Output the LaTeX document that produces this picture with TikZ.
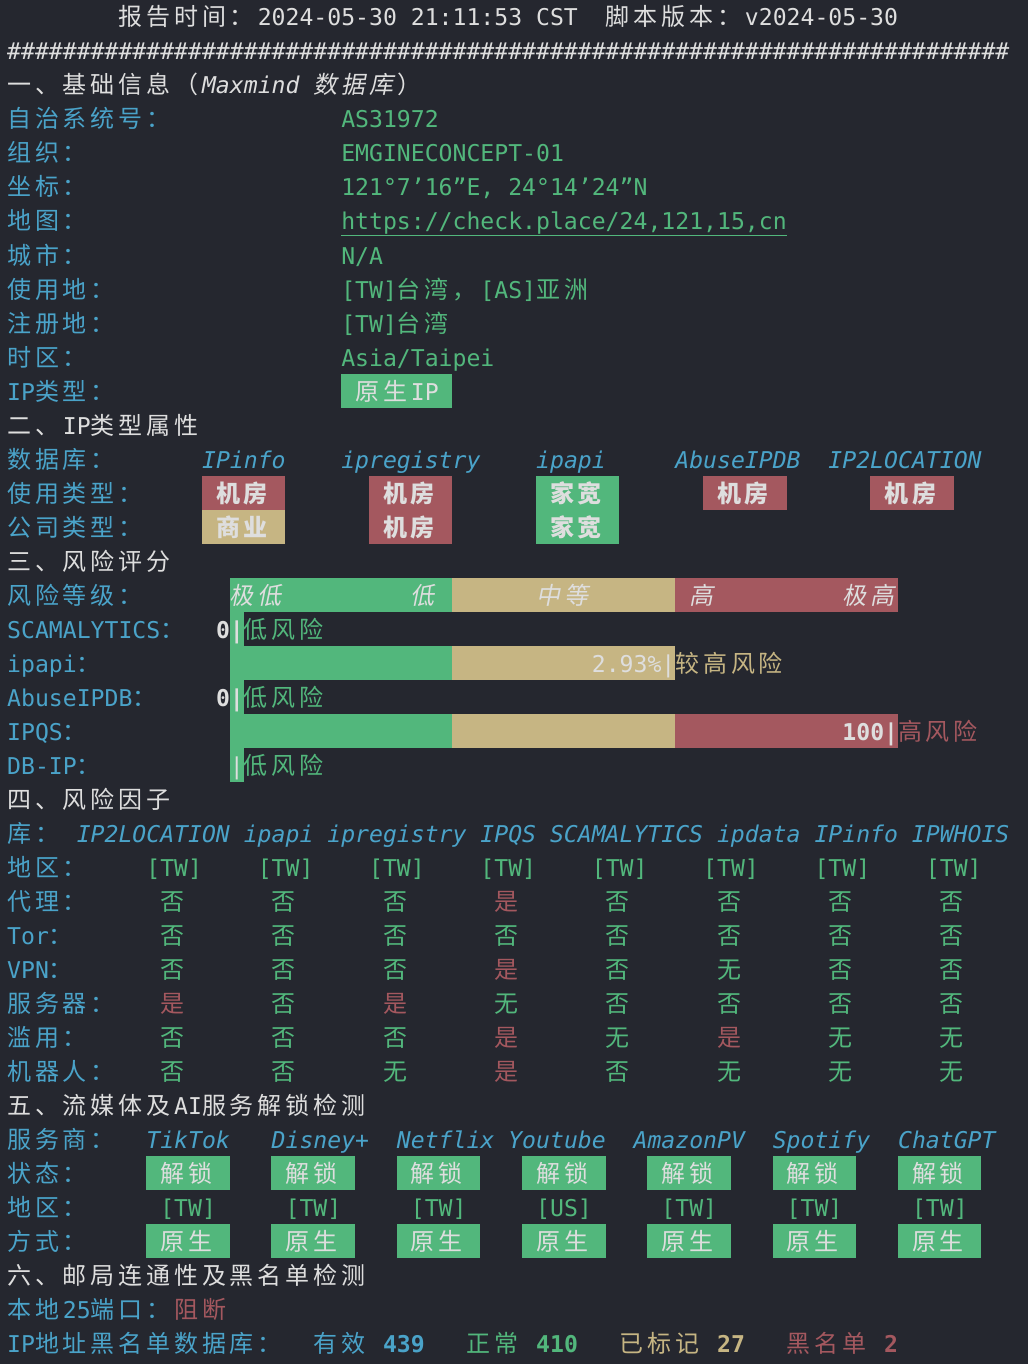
\documentclass[tikz,border=0pt]{standalone}
\usepackage{fontspec}
\setmainfont{DejaVu Sans Mono}
\newfontfamily\cjkr{Noto Sans CJK SC}[Scale=1.038]
\newfontfamily\cjki{Noto Sans CJK SC}[Scale=1.038, FakeSlant=0.2]
\definecolor{termbg}{HTML}{25272F}
\definecolor{tcyan}{HTML}{4AA3C9}
\definecolor{tgreen}{HTML}{52B77C}
\definecolor{ttan}{HTML}{C6B583}
\definecolor{tred}{HTML}{A4585F}
\definecolor{twhite}{HTML}{DEDEDE}
\usetikzlibrary{positioning, calc}

% one CJK glyph takes two terminal cells
\def\hzfam{\cjkr}
\def\hzloop#1{\ifx#1\relax\else\makebox[27.84pt][l]{\hzfam#1}\expandafter\hzloop\fi}
\newcommand\hz[1]{\expandafter\hzloop#1\relax}
\newcommand\hzi[1]{{\let\hzfam\cjki\expandafter\hzloop#1\relax}}
\ExplSyntaxOn
\newcommand\hashline{\prg_replicate:nn{72}{\#}}
\ExplSyntaxOff

\tikzset{
	txt/.style={inner sep=0pt, anchor=base west, yshift=-26pt, font=\fontsize{23.121pt}{34pt}\selectfont}
}

\begin{document}
\begin{tikzpicture}[x=13.92pt, y=-34pt]
	\fill[termbg] (-7pt,0pt) rectangle (1021pt,-1364pt);
	\useasboundingbox (-7pt,0pt) rectangle (1021pt,-1364pt);
	% header
	\node[txt, text=twhite] at (8,0) (rtime) {\hz{报告时间：}2024-05-30 21:11:53 CST};
	\node[txt, text=twhite] at (43,0) (rver) {\hz{脚本版本：}v2024-05-30};
	\node[txt, text=twhite] at (0,1) (hash) {\hashline};
	% basic info
	\node[txt, text=twhite] at (0,2) (sec1) {\hz{一、基础信息（}\textit{Maxmind}\ \hzi{数据库}\hz{）}};
	\node[txt, text=tcyan] at (0,3) (asnL) {\hz{自治系统号：}};
	\node[txt, text=tgreen] at (24,3) (asn) {AS31972};
	\node[txt, text=tcyan] at (0,4) (orgL) {\hz{组织：}};
	\node[txt, text=tgreen] at (24,4) (org) {EMGINECONCEPT-01};
	\node[txt, text=tcyan] at (0,5) (geoL) {\hz{坐标：}};
	\node[txt, text=tgreen] at (24,5) (geo) {121°7’16”E, 24°14’24”N};
	\node[txt, text=tcyan] at (0,6) (mapL) {\hz{地图：}};
	\node[txt, text=tgreen] at (24,6) (url) {https://check.place/24,121,15,cn};
	\draw[tgreen, line width=1.5pt] ([yshift=-5.5pt]url.base west) -- ([yshift=-5.5pt]url.base east);
	\node[txt, text=tcyan] at (0,7) (cityL) {\hz{城市：}};
	\node[txt, text=tgreen] at (24,7) (city) {N/A};
	\node[txt, text=tcyan] at (0,8) (useL) {\hz{使用地：}};
	\node[txt, text=tgreen] at (24,8) (use) {[TW]\hz{台湾，}[AS]\hz{亚洲}};
	\node[txt, text=tcyan] at (0,9) (regL) {\hz{注册地：}};
	\node[txt, text=tgreen] at (24,9) (reg) {[TW]\hz{台湾}};
	\node[txt, text=tcyan] at (0,10) (tzL) {\hz{时区：}};
	\node[txt, text=tgreen] at (24,10) (tz) {Asia/Taipei};
	\node[txt, text=tcyan] at (0,11) (ipL) {IP\hz{类型：}};
	\fill[tgreen] (24,11) rectangle (32,12);
	\node[txt, text=twhite] at (25,11) (ipt) {\hz{原生}IP};
	% ip type
	\node[txt, text=twhite] at (0,12) (sec2) {\hz{二、}IP\hz{类型属性}};
	\node[txt, text=tcyan] at (0,13) (dbL) {\hz{数据库：}};
	\foreach \n/\p [count=\k from 0] in {IPinfo/14, ipregistry/24, ipapi/38, AbuseIPDB/48, IP2LOCATION/59}
		\node[txt, text=tcyan] at (\p,13) (db\k) {\textit{\n}};
	\node[txt, text=tcyan] at (0,14) (utL) {\hz{使用类型：}};
	\node[txt, text=tcyan] at (0,15) (ctL) {\hz{公司类型：}};
	\foreach \p/\c/\v [count=\k from 0] in {14/tred/机房, 26/tred/机房, 38/tgreen/家宽, 50/tred/机房, 62/tred/机房} {
		\fill[\c] (\p,14) rectangle (\p+6,15);
		\node[txt, text=twhite] at (\p+1,14) (ut\k) {\bfseries\hz{\v}};
	}
	\foreach \p/\c/\v [count=\k from 0] in {14/ttan/商业, 26/tred/机房, 38/tgreen/家宽} {
		\fill[\c] (\p,15) rectangle (\p+6,16);
		\node[txt, text=twhite] at (\p+1,15) (ct\k) {\bfseries\hz{\v}};
	}
	% risk score
	\node[txt, text=twhite] at (0,16) (sec3) {\hz{三、风险评分}};
	\node[txt, text=tcyan] at (0,17) (lvL) {\hz{风险等级：}};
	\fill[tgreen] (16,17) rectangle (32,18);
	\fill[ttan] (32,17) rectangle (48,18);
	\fill[tred] (48,17) rectangle (64,18);
	\node[txt, text=twhite] at (16,17) (lv1) {\hzi{极低}};
	\node[txt, text=twhite] at (29,17) (lv2) {\hzi{低}};
	\node[txt, text=twhite] at (38,17) (lv3) {\hzi{中等}};
	\node[txt, text=twhite] at (49,17) (lv4) {\hzi{高}};
	\node[txt, text=twhite] at (60,17) (lv5) {\hzi{极高}};
	\fill[tgreen] (16,18) rectangle (17,19);
	\fill[tgreen] (16,19) rectangle (32,20);
	\fill[ttan] (32,19) rectangle (48,20);
	\fill[tgreen] (16,20) rectangle (17,21);
	\fill[tgreen] (16,21) rectangle (32,22);
	\fill[ttan] (32,21) rectangle (48,22);
	\fill[tred] (48,21) rectangle (64,22);
	\fill[tgreen] (16,22) rectangle (17,23);
	\node[txt, text=tcyan] at (0,18) (scL) {SCAMALYTICS\hz{：}};
	\node[txt, text=twhite] at (15,18) (scS) {\textbf{0|}};
	\node[txt, text=tgreen] at (17,18) (scR) {\hz{低风险}};
	\node[txt, text=tcyan] at (0,19) (apL) {ipapi\hz{：}};
	\node[txt, text=twhite] at (42,19) (apS) {2.93\%|};
	\node[txt, text=ttan] at (48,19) (apR) {\hz{较高风险}};
	\node[txt, text=tcyan] at (0,20) (abL) {AbuseIPDB\hz{：}};
	\node[txt, text=twhite] at (15,20) (abS) {\textbf{0|}};
	\node[txt, text=tgreen] at (17,20) (abR) {\hz{低风险}};
	\node[txt, text=tcyan] at (0,21) (iqL) {IPQS\hz{：}};
	\node[txt, text=twhite] at (60,21) (iqS) {\textbf{100|}};
	\node[txt, text=tred] at (64,21) (iqR) {\hz{高风险}};
	\node[txt, text=tcyan] at (0,22) (dbiL) {DB-IP\hz{：}};
	\node[txt, text=twhite] at (16,22) (dbiS) {|};
	\node[txt, text=tgreen] at (17,22) (dbiR) {\hz{低风险}};
	% risk factors
	\node[txt, text=twhite] at (0,23) (sec4) {\hz{四、风险因子}};
	\node[txt, text=tcyan] at (0,24) (libL) {\hz{库：}};
	\node[txt, text=tcyan] at (5,24) (libs) {\textit{IP2LOCATION ipapi ipregistry IPQS SCAMALYTICS ipdata IPinfo IPWHOIS}};
	\node[txt, text=tcyan] at (0,25) (areaL) {\hz{地区：}};
	\foreach \k in {0,...,7}
		\node[txt, text=tgreen] at (10+8*\k,25) (area\k) {[TW]};
	\node[txt, text=tcyan] at (0,26) (prxL) {\hz{代理：}};
	\node[txt, text=tcyan] at (0,27) (torL) {Tor\hz{：}};
	\node[txt, text=tcyan] at (0,28) (vpnL) {VPN\hz{：}};
	\node[txt, text=tcyan] at (0,29) (srvL) {\hz{服务器：}};
	\node[txt, text=tcyan] at (0,30) (absL) {\hz{滥用：}};
	\node[txt, text=tcyan] at (0,31) (botL) {\hz{机器人：}};
	\foreach \v/\c [count=\k from 0] in {否/tgreen,否/tgreen,否/tgreen,是/tred,否/tgreen,否/tgreen,否/tgreen,否/tgreen}
		\node[txt, text=\c] at (11+8*\k,26) (prx\k) {\hz{\v}};
	\foreach \v/\c [count=\k from 0] in {否/tgreen,否/tgreen,否/tgreen,否/tgreen,否/tgreen,否/tgreen,否/tgreen,否/tgreen}
		\node[txt, text=\c] at (11+8*\k,27) (tor\k) {\hz{\v}};
	\foreach \v/\c [count=\k from 0] in {否/tgreen,否/tgreen,否/tgreen,是/tred,否/tgreen,无/tgreen,否/tgreen,否/tgreen}
		\node[txt, text=\c] at (11+8*\k,28) (vpn\k) {\hz{\v}};
	\foreach \v/\c [count=\k from 0] in {是/tred,否/tgreen,是/tred,无/tgreen,否/tgreen,否/tgreen,否/tgreen,否/tgreen}
		\node[txt, text=\c] at (11+8*\k,29) (srv\k) {\hz{\v}};
	\foreach \v/\c [count=\k from 0] in {否/tgreen,否/tgreen,否/tgreen,是/tred,无/tgreen,是/tred,无/tgreen,无/tgreen}
		\node[txt, text=\c] at (11+8*\k,30) (abs\k) {\hz{\v}};
	\foreach \v/\c [count=\k from 0] in {否/tgreen,否/tgreen,无/tgreen,是/tred,否/tgreen,无/tgreen,无/tgreen,无/tgreen}
		\node[txt, text=\c] at (11+8*\k,31) (bot\k) {\hz{\v}};
	% streaming unlock
	\node[txt, text=twhite] at (0,32) (sec5) {\hz{五、流媒体及}AI\hz{服务解锁检测}};
	\node[txt, text=tcyan] at (0,33) (svcL) {\hz{服务商：}};
	\node[txt, text=tcyan] at (0,34) (stL) {\hz{状态：}};
	\node[txt, text=tcyan] at (0,35) (srL) {\hz{地区：}};
	\node[txt, text=tcyan] at (0,36) (wayL) {\hz{方式：}};
	\foreach \n/\p [count=\k from 0] in {TikTok/10, Disney+/19, Netflix/28, Youtube/36, AmazonPV/45, Spotify/55, ChatGPT/64}
		\node[txt, text=tcyan] at (\p,33) (svc\k) {\textit{\n}};
	\foreach \rg [count=\k from 0] in {TW,TW,TW,US,TW,TW,TW} {
		\fill[tgreen] (10+9*\k,34) rectangle (16+9*\k,35);
		\fill[tgreen] (10+9*\k,36) rectangle (16+9*\k,37);
		\node[txt, text=twhite] at (11+9*\k,34) (st\k) {\hz{解锁}};
		\node[txt, text=tgreen] at (11+9*\k,35) (sr\k) {[\rg]};
		\node[txt, text=twhite] at (11+9*\k,36) (way\k) {\hz{原生}};
	}
	% mail and blacklist
	\node[txt, text=twhite] at (0,37) (sec6) {\hz{六、邮局连通性及黑名单检测}};
	\node[txt, text=tcyan] at (0,38) (smtpL) {\hz{本地}25\hz{端口：}};
	\node[txt, text=tred] at (12,38) (smtp) {\hz{阻断}};
	\node[txt, text=tcyan] at (0,39) (blL) {IP\hz{地址黑名单数据库：}};
	\node[txt, text=tcyan] at (22,39) (blok) {\hz{有效} \textbf{439}};
	\node[txt, text=tgreen] at (33,39) (blclean) {\hz{正常} \textbf{410}};
	\node[txt, text=ttan] at (44,39) (blmark) {\hz{已标记} \textbf{27}};
	\node[txt, text=tred] at (56,39) (blblack) {\hz{黑名单} \textbf{2}};
\end{tikzpicture}
\end{document}
